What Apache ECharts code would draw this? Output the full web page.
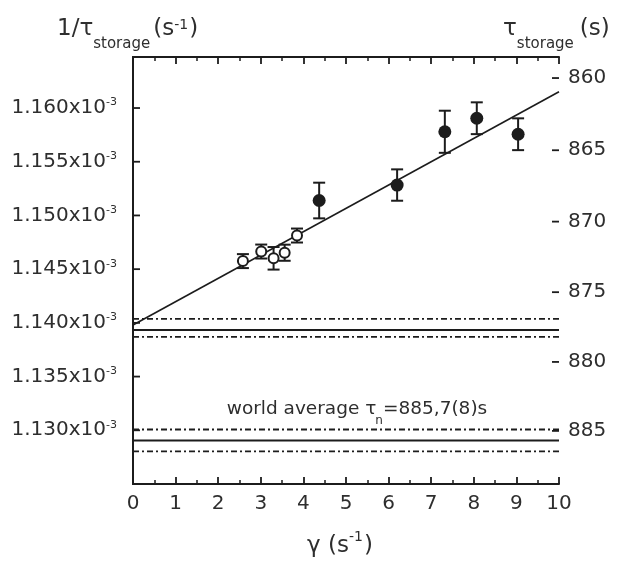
<!DOCTYPE html>
<html>
<head>
<meta charset="utf-8">
<script src="https://cdn.jsdelivr.net/npm/echarts@6/dist/echarts.min.js"></script>
<style>
  html, body { margin: 0; padding: 0; background: #fff; }
  #chart { width: 621px; height: 563px; }
</style>
</head>
<body>
<div id="chart"></div>
<script>
// Loss rate 1/tau_storage (s^-1) against the loss coefficient gamma (s^-1)

// open symbols: low-gamma runs
const openGamma = [2.58, 3.01, 3.30, 3.56, 3.85];
const openRate  = [1.14575e-3, 1.14664e-3, 1.14601e-3, 1.14653e-3, 1.14813e-3];
const openErr   = [0.65e-6, 0.65e-6, 1.05e-6, 0.75e-6, 0.65e-6];

// filled symbols: high-gamma runs
const filledGamma = [4.37, 6.20, 7.32, 8.07, 9.04];
const filledRate  = [1.15139e-3, 1.15283e-3, 1.15779e-3, 1.15905e-3, 1.15756e-3];
const filledErr   = [1.66e-6, 1.46e-6, 1.96e-6, 1.48e-6, 1.48e-6];

// straight-line fit through all runs
const fitGamma = [0, 10];
const fitRate  = [1.13980e-3, 1.16152e-3];

// lifetimes in seconds: [short bound, central, long bound]
const extrapTau = [876.9, 877.7, 878.2];
const worldTau  = [884.9, 885.7, 886.5];

// axis ticks
const leftTicks  = [1.130e-3, 1.135e-3, 1.140e-3, 1.145e-3, 1.150e-3, 1.155e-3, 1.160e-3];
const rightTicks = [860, 865, 870, 875, 880, 885];

const FONT = 'DejaVu Sans';
const INK = '#1c1c1c';
const TEXT = '#2e2e2e';

const yMin = 1.125e-3, yMax = 1.16475e-3;

function hLine(rate, dashed) {
  return {
    type: 'line',
    data: fitGamma.map(g => [g, rate]),
    symbol: 'none',
    silent: true,
    lineStyle: { color: INK, width: dashed ? 1.8 : 2, type: dashed ? [6, 3, 2, 3] : 'solid' },
    z: 2
  };
}

const bandSeries = [];
[extrapTau, worldTau].forEach(arr => {
  bandSeries.push(hLine(1 / arr[0], true));
  bandSeries.push(hLine(1 / arr[1], false));
  bandSeries.push(hLine(1 / arr[2], true));
});

function errBars(gs, rs, es) {
  return {
    type: 'custom',
    data: gs.map((g, i) => [g, rs[i], es[i]]),
    encode: { x: 0, y: 1 },
    silent: true,
    z: 3,
    renderItem(params, api) {
      const x = api.value(0), y = api.value(1), e = api.value(2);
      const t = api.coord([x, y + e]);
      const b = api.coord([x, y - e]);
      const hw = 6;
      const st = { stroke: INK, lineWidth: 2 };
      return {
        type: 'group',
        children: [
          { type: 'line', shape: { x1: t[0], y1: t[1], x2: b[0], y2: b[1] }, style: st },
          { type: 'line', shape: { x1: t[0] - hw, y1: t[1], x2: t[0] + hw, y2: t[1] }, style: st },
          { type: 'line', shape: { x1: b[0] - hw, y1: b[1], x2: b[0] + hw, y2: b[1] }, style: st }
        ]
      };
    }
  };
}

// inward ticks on the left (rate) and right (lifetime) frame edges
function frameTicks(values, xEdge, dir) {
  return {
    type: 'custom',
    data: values.map(v => [xEdge, v]),
    encode: { x: 0, y: 1 },
    silent: true,
    clip: false,
    z: 5,
    renderItem(params, api) {
      const p = api.coord([api.value(0), api.value(1)]);
      return {
        type: 'line',
        shape: { x1: p[0], y1: p[1], x2: p[0] + dir * 7, y2: p[1] },
        style: { stroke: INK, lineWidth: 1.8 }
      };
    }
  };
}

const axisLine = { show: true, lineStyle: { color: INK, width: 2 } };

function xAxisDef(pos, showLabel) {
  return {
    type: 'value', position: pos, min: 0, max: 10, interval: 1,
    axisLine: axisLine,
    axisTick: { show: true, inside: true, length: 7, lineStyle: { color: INK, width: 1.8 } },
    minorTick: { show: true, splitNumber: 2, length: 4, lineStyle: { color: INK, width: 1.5 } },
    axisLabel: { show: showLabel, margin: 10, fontFamily: FONT, fontSize: 20, color: TEXT },
    splitLine: { show: false }, minorSplitLine: { show: false }
  };
}

// Axis titles with sub- and superscripts, laid out piece by piece on a baseline.
const meas = document.createElement('canvas').getContext('2d');
function textW(str, fs) {
  meas.font = fs + 'px "' + FONT + '"';
  return meas.measureText(str).width;
}
// parts: [text, fontSize, baseline shift (px, + is down), gap before (px)]
function richLine(x0, baseline, parts, align) {
  const widths = parts.map(p => textW(p[0], p[1]));
  const total = widths.reduce((s, w, i) => s + w + (parts[i][3] || 0), 0);
  let x = align === 'center' ? x0 - total / 2 : x0;
  return parts.map((p, i) => {
    x += p[3] || 0;
    const el = {
      type: 'text', silent: true, x: x,
      y: baseline + p[2] - 0.346 * p[1],
      style: {
        text: p[0], fontFamily: FONT, fontSize: p[1], fill: TEXT,
        textAlign: 'left', verticalAlign: 'middle', textVerticalAlign: 'middle'
      }
    };
    x += widths[i];
    return el;
  });
}

const worldLabel = '=' + worldTau[1].toFixed(1).replace('.', ',') +
  '(' + Math.round((worldTau[2] - worldTau[1]) * 10) + ')s';

const titles = [].concat(
  richLine(57, 37, [['1/τ', 23, 0], ['storage', 15, 12, 0], ['(s', 23, 0, 3], ['-1', 14, -7, 0], [')', 23, 0, 1]]),
  richLine(503, 37, [['τ', 23, 0], ['storage', 15, 12, 0], ['(s)', 23, 0, 6]]),
  richLine(340, 554, [['γ (s', 23, 0], ['-1', 14, -12, 0], [')', 23, 0, 1]], 'center'),
  richLine(357, 416, [['world average τ', 18.5, 0], ['n', 12, 9, -1], [worldLabel, 18.5, 0, 0]], 'center')
);

const chart = echarts.init(document.getElementById('chart'), null, { renderer: 'canvas' });
chart.setOption({
  animation: false,
  backgroundColor: '#fff',
  grid: { left: 133, right: 62, top: 57, bottom: 79, containLabel: false },
  xAxis: [xAxisDef('bottom', true), xAxisDef('top', false)],
  yAxis: [
    {
      type: 'value', position: 'left', min: yMin, max: yMax,
      axisLine: axisLine,
      axisTick: { show: false },
      axisLabel: {
        customValues: leftTicks, margin: 16,
        formatter: v => '{m|' + (v * 1000).toFixed(3) + 'x10}{e|-3}',
        rich: {
          m: { fontFamily: FONT, fontSize: 20, lineHeight: 22, color: TEXT, verticalAlign: 'middle' },
          e: { fontFamily: FONT, fontSize: 11, lineHeight: 11, color: TEXT, verticalAlign: 'top' }
        }
      },
      splitLine: { show: false }
    },
    {
      type: 'value', position: 'right', min: yMin, max: yMax,
      axisLine: axisLine,
      axisTick: { show: false },
      axisLabel: {
        customValues: rightTicks.map(t => 1 / t), margin: 9,
        fontFamily: FONT, fontSize: 20, color: TEXT,
        formatter: v => String(Math.round(1 / v))
      },
      splitLine: { show: false }
    }
  ],
  series: [
    ...bandSeries,
    {
      type: 'line',
      data: fitGamma.map((g, i) => [g, fitRate[i]]),
      symbol: 'none', silent: true, z: 2,
      lineStyle: { color: INK, width: 1.6 }
    },
    errBars(openGamma, openRate, openErr),
    errBars(filledGamma, filledRate, filledErr),
    {
      type: 'scatter', z: 4, silent: true,
      data: openGamma.map((g, i) => [g, openRate[i]]),
      symbol: 'circle', symbolSize: 10,
      itemStyle: { color: '#fff', borderColor: INK, borderWidth: 2, opacity: 1 }
    },
    {
      type: 'scatter', z: 4, silent: true,
      data: filledGamma.map((g, i) => [g, filledRate[i]]),
      symbol: 'circle', symbolSize: 13,
      itemStyle: { color: INK, opacity: 1 }
    },
    frameTicks(leftTicks, 0, 1),
    frameTicks(rightTicks.map(t => 1 / t), 10, -1)
  ],
  graphic: titles
});
</script>
</body>
</html>
